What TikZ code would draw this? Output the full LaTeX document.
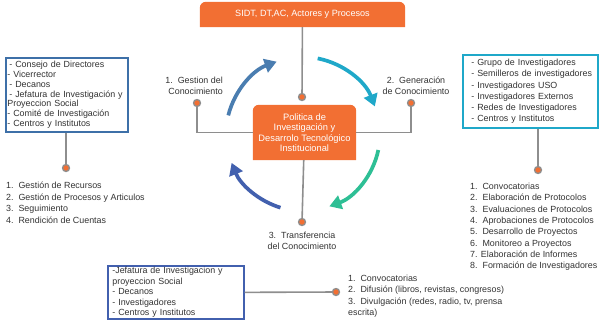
\documentclass[tikz,border=0pt]{standalone}
\usepackage{fontspec}
\setmainfont{Liberation Sans}
\usetikzlibrary{arrows.meta,backgrounds}
\definecolor{orangec}{HTML}{F26F33}
\definecolor{lgray}{HTML}{8E8E8E}
\definecolor{txt}{HTML}{333333}
\definecolor{steel}{HTML}{4A7DB0}
\definecolor{tealc}{HTML}{1FA8C9}
\definecolor{greenc}{HTML}{2EBF95}
\definecolor{navyc}{HTML}{4260AE}
\definecolor{lboxc}{HTML}{3E70A8}
\tikzset{
  conn/.style={draw=lgray, line width=1.6},
  dotc/.style={circle, draw=lgray, line width=1.3, fill=orangec, minimum size=7, inner sep=0},
  orbox/.style={text=white, align=center, inner sep=0},
  listbox/.style={draw, line width=1.7, fill=white, align=left, inner sep=0, anchor=north west, text=txt},
  listtxt/.style={align=left, anchor=north west, inner sep=0, text=txt},
  lbl/.style={align=center, inner sep=0, text=txt},
  cyc/.style={line width=3.7, -{Triangle[length=12pt,width=14pt]}},
}
\begin{document}
\begin{tikzpicture}[x=1pt,y=-1pt, font=\fontsize{8.9}{10.8}\selectfont]
\useasboundingbox (0,0) rectangle (604,325);

% top box
\node[orbox, minimum width=205, minimum height=25, font=\fontsize{9.1}{11}\selectfont] (top) at (302.5,14.5) {SIDT, DT,AC, Actores y Procesos};
% central box
\node[orbox, minimum width=103, minimum height=55, font=\fontsize{9.3}{10.4}\selectfont] (pol) at (304.5,132.5)
  {Politica de\\Investigación y\\Desarrolo Tecnológico\\Institucional};
\begin{scope}[on background layer]
  \fill[orangec] (top.south west) [rounded corners=6] -- (top.north west) -- (top.north east) [sharp corners] -- (top.south east) -- cycle;
  \fill[orangec] (pol.south west) [rounded corners=6] -- (pol.north west) -- (pol.north east) [sharp corners] -- (pol.south east) -- cycle;
\end{scope}

% markers
\node[dotc] (c0) at (302,97) {};
\node[dotc] (c1) at (197,103) {};
\node[dotc] (c2) at (411,103) {};
\node[dotc] (c3) at (302,222) {};
\node[dotc] (cL) at (66,168) {};
\node[dotc] (cR) at (538,170) {};
\node[dotc] (cB) at (336,292) {};

% labels
\node[lbl, align=right, anchor=east] (l1) at (223,86) {1.\ \ Gestion del\\Conocimiento};
\node[lbl] (l2) at (416,86) {2.\ \ Generación\\de Conocimiento};
\node[lbl] (l3) at (302,241) {3.\ \ Transferencia\\del Conocimiento};

% left box
\node[listbox, draw=lboxc, minimum width=122, minimum height=74, text width=119, font=\fontsize{8.9}{9.8}\selectfont] (lbox) at (5,57)
  {\hspace*{2pt}- Consejo de Directores\\- Vicerrector\\\hspace*{2pt}- Decanos\\\hspace*{2pt}- Jefatura de Investigación y\\Proyeccion Social\\- Comité de Investigación\\- Centros y Institutos};
% right box
\node[listbox, draw=tealc, minimum width=135, minimum height=73, text width=128, font=\fontsize{8.9}{11.2}\selectfont] (rbox) at (462,54)
  {\hspace*{5pt}- Grupo de Investigadores\\\hspace*{5pt}- Semilleros de investigadores\\\hspace*{5pt}- Investigadores USO\\\hspace*{5pt}- Investigadores Externos\\\hspace*{5pt}- Redes de Investigadores\\\hspace*{5pt}- Centros y Institutos};
% bottom box
\node[listbox, draw=navyc, minimum width=136, minimum height=53, text width=133, font=\fontsize{8.9}{10.6}\selectfont] (bbox) at (107,265)
  {\hspace*{3pt}-Jefatura de Investigacion y\\\hspace*{3pt}proyeccion Social\\\hspace*{3pt}- Decanos\\\hspace*{3pt}- Investigadores\\\hspace*{3pt}- Centros y Institutos};

% lists
\node[listtxt, font=\fontsize{8.9}{11.5}\selectfont] (lL) at (6,182)
  {1.\ \ Gestión de Recursos\\2.\ \ Gestión de Procesos y Articulos\\3.\ \ Seguimiento\\4.\ \ Rendición de Cuentas};
\node[listtxt, font=\fontsize{8.9}{11.3}\selectfont] (lR) at (470,183)
  {1.\ \ Convocatorias\\2.\ \ Elaboración de Protocolos\\3.\ \ Evaluaciones de Protocolos\\4.\ \ Aprobaciones de Protocolos\\5.\ \ Desarrollo de Proyectos\\6.\ \ Monitoreo a Proyectos\\7. Elaboración de Informes\\8.\ \ Formación de Investigadores};
\node[listtxt, font=\fontsize{8.9}{11.3}\selectfont] (lB) at (348,275)
  {1.\ \ Convocatorias\\2.\ \ Difusión (libros, revistas, congresos)\\3.\ \ Divulgación (redes, radio, tv, prensa\\escrita)};

% connectors
\draw[conn] (top) -- (c0);
\draw[conn] (pol.west) -| (c1);
\draw[conn] (pol.east) -| (c2);
\draw[conn] (pol) -- (c3);
\draw[conn] (lbox.south -| cL) -- (cL);
\draw[conn] (rbox.south -| cR) -- (cR);
\draw[conn] (bbox.east) -- (cB);

% cycle arrows (angles clockwise on the page, since y points down)
\coordinate (o) at (303,134);
\draw[cyc, steel] ([shift={(-166:77)}]o) arc[start angle=-166, end angle=-110, radius=77];
\draw[cyc, tealc] ([shift={(-79:77)}]o) arc[start angle=-79, end angle=-21, radius=77];
\draw[cyc, greenc] ([shift={(12:77)}]o) arc[start angle=12, end angle=70, radius=77];
\draw[cyc, navyc] ([shift={(107:77)}]o) arc[start angle=107, end angle=158, radius=77];
\end{tikzpicture}
\end{document}
